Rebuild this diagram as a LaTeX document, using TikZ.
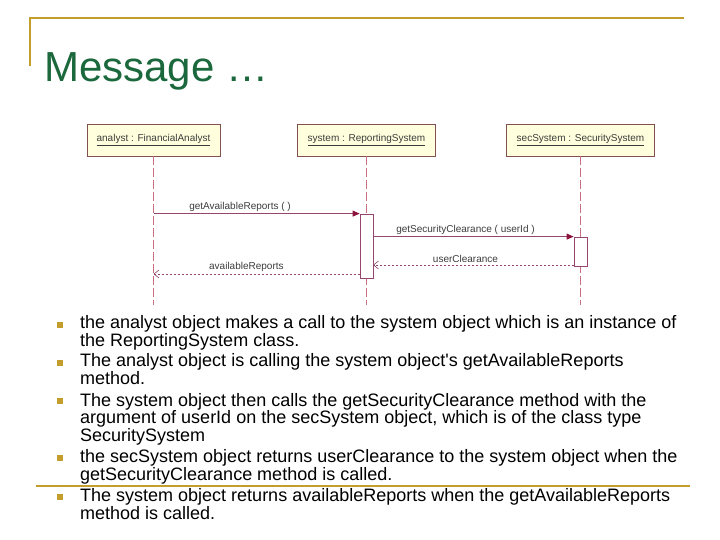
\documentclass[tikz,border=0pt]{standalone}
\usepackage{fontspec}
\setmainfont{Liberation Sans}
\usetikzlibrary{arrows.meta}
\definecolor{gold}{RGB}{196,158,44}
\definecolor{titlegreen}{RGB}{26,104,60}
\definecolor{boxfill}{RGB}{255,255,221}
\definecolor{boxline}{RGB}{130,80,80}
\definecolor{lifecol}{RGB}{200,110,130}
\definecolor{msgcol}{RGB}{150,70,110}
\definecolor{headcol}{RGB}{140,20,60}
\definecolor{diagtext}{RGB}{60,60,60}
\tikzset{
  objbox/.style={draw=boxline, fill=boxfill, line width=0.8pt, minimum height=32pt, inner sep=0pt, font=\fontsize{10}{12}\selectfont, text=diagtext},
  lifeline/.style={draw=lifecol, line width=0.9pt, dash pattern=on 9pt off 3pt},
  actbox/.style={draw=msgcol, fill=white, line width=0.8pt, minimum width=13pt, inner sep=0pt},
  callmsg/.style={draw=msgcol, line width=0.9pt, -{Triangle[length=7pt,width=6pt,color=headcol]}},
  retmsg/.style={draw=msgcol, line width=0.8pt, dash pattern=on 2pt off 2pt, -{Straight Barb[length=5pt,width=8pt,line width=0.6pt]}},
  mlabel/.style={font=\fontsize{10}{12}\selectfont, text=diagtext, inner sep=2pt},
  bul/.style={fill=gold, minimum size=6pt, inner sep=0pt},
  txt/.style={align=left, inner sep=0pt, font=\fontsize{18}{17.5}\selectfont},
  goldline/.style={draw=gold, line width=2.5pt}
}
\begin{document}
\begin{tikzpicture}[x=1pt,y=-1pt]
\useasboundingbox[fill=white] (0,0) rectangle (720,540);
% template lines
\coordinate (tl1) at (30,18);
\coordinate (tl2) at (684,18);
\coordinate (tl3) at (30,66);
\draw[goldline] (tl3) -- (tl1) -- (tl2);
\coordinate (fl1) at (36,486);
\coordinate (fl2) at (690,486);
\draw[goldline, line width=2pt] (fl1) -- (fl2);
% title
\node[anchor=base west, inner sep=0pt, text=titlegreen, font=\fontsize{42}{48}\selectfont] (title) at (44,82) {Message …};
% objects
\node[objbox, minimum width=133pt] (an) at (153.5,140) {\underline{analyst : FinancialAnalyst}};
\node[objbox, minimum width=138pt] (sys) at (366.5,140) {\underline{system : ReportingSystem}};
\node[objbox, minimum width=148pt] (sec) at (580.5,140) {\underline{secSystem : SecuritySystem}};
\coordinate (anEnd) at (153.5,305);
\coordinate (sysEnd) at (366.5,305);
\coordinate (secEnd) at (580.5,305);
\draw[lifeline] (an.south) -- (anEnd);
\draw[lifeline] (sys.south) -- (sysEnd);
\draw[lifeline] (sec.south) -- (secEnd);
% activations
\node[actbox, minimum height=64pt] (act1) at (366.5,246) {};
\node[actbox, minimum height=29pt] (act2) at (580.5,251.5) {};
% messages
\draw[callmsg] (an.south |- act1.north) -- node[mlabel, above, pos=0.42] (m1) {getAvailableReports ( )} (act1.north west);
\draw[callmsg] (act1.east |- act2.north) -- node[mlabel, above, pos=0.46] (m2) {getSecurityClearance ( userId )} (act2.north west);
\coordinate (r1s) at (574,265);
\coordinate (r1e) at (373,265);
\draw[retmsg] (r1s) -- node[mlabel, above, pos=0.54] (m3) {userClearance} (r1e);
\coordinate (r2s) at (360,274);
\coordinate (r2e) at (153.5,274);
\draw[retmsg] (r2s) -- node[mlabel, above, pos=0.55] (m4) {availableReports} (r2e);
% bullets
\node[bul] (b1) at (60,325) {};
\node[bul] (b2) at (60,363) {};
\node[bul] (b3) at (60,401) {};
\node[bul] (b4) at (60,458) {};
\node[bul] (b5) at (60,497) {};
\node[txt, anchor=base west] (t1) at (80,346) {the analyst object makes a call to the system object which is an instance of\\the ReportingSystem class.};
\node[txt, anchor=base west] (t2) at (80,384) {The analyst object is calling the system object\textquotesingle s getAvailableReports\\method.};
\node[txt, anchor=base west] (t3) at (80,441) {The system object then calls the getSecurityClearance method with the\\argument of userId on the secSystem object, which is of the class type\\SecuritySystem};
\node[txt, anchor=base west] (t4) at (80,480) {the secSystem object returns userClearance to the system object when the\\getSecurityClearance method is called.};
\node[txt, anchor=base west] (t5) at (80,519) {The system object returns availableReports when the getAvailableReports\\method is called.};
\end{tikzpicture}
\end{document}
